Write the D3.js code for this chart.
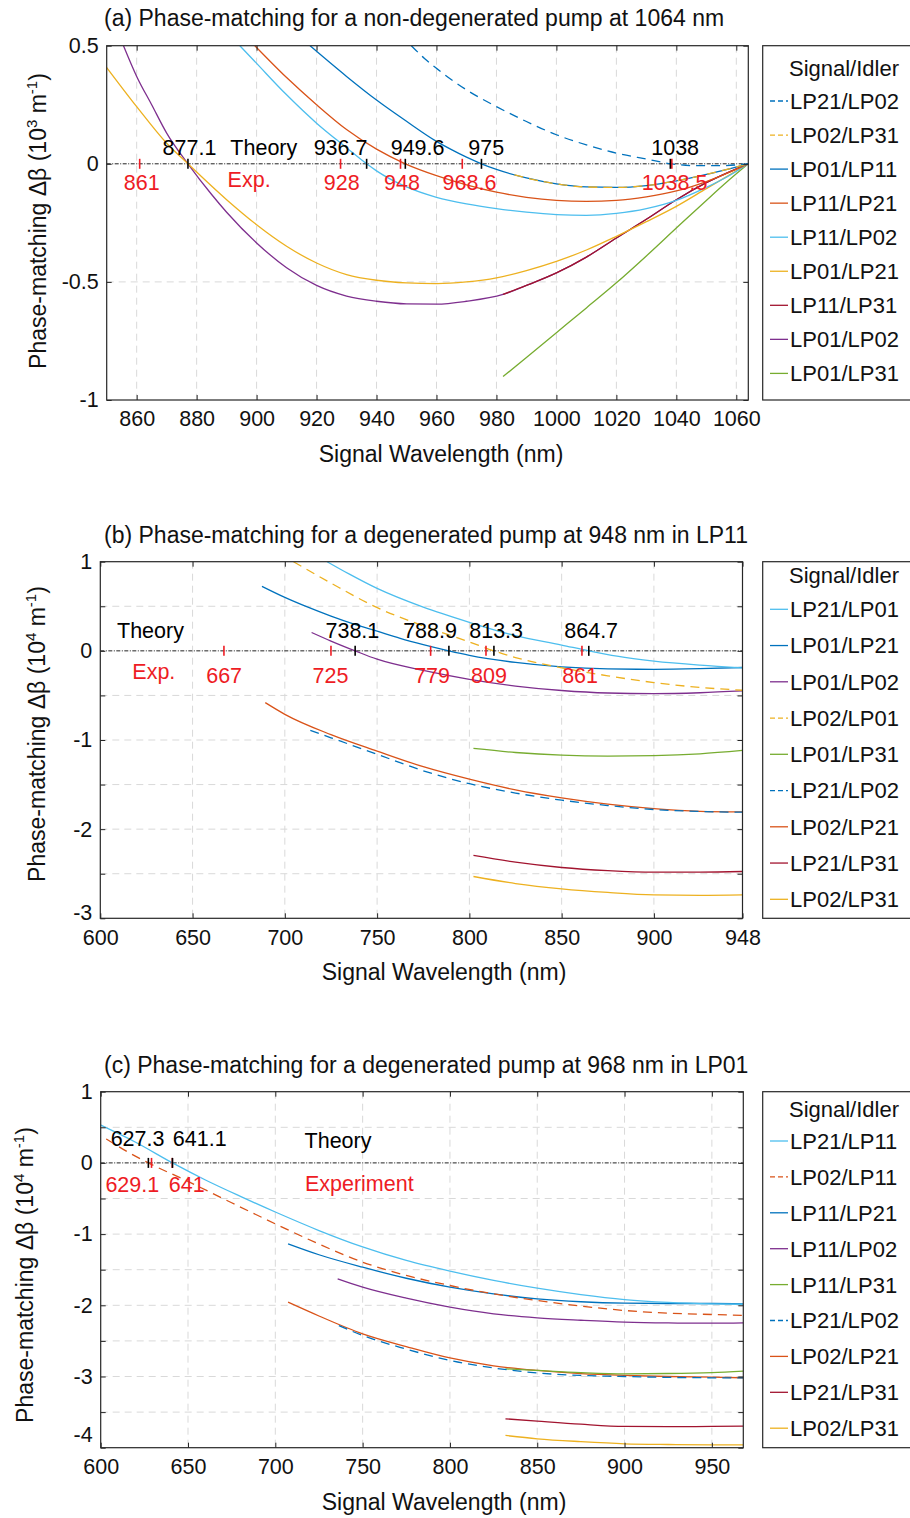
<!DOCTYPE html>
<html>
<head>
<meta charset="utf-8">
<script src="https://cdn.jsdelivr.net/npm/d3@7"></script>
<style>
  body { margin: 0; background: #fff; }
  text { font-family: "Liberation Sans", Arial, Helvetica, sans-serif; }
</style>
</head>
<body>
<svg id="fig" width="910" height="1518"></svg>
<script>
// ---------- panel (a): pump 1064 nm ----------
const namesA = ["LP21/LP02", "LP02/LP31", "LP01/LP11", "LP11/LP21", "LP11/LP02",
                "LP01/LP21", "LP11/LP31", "LP01/LP02", "LP01/LP31"];
const curvesA = [
  [[951.6,0.5],[956,0.446],[960,0.404],[970,0.313],[980,0.242],[990,0.179],[1000,0.123],[1010,0.08],[1020,0.045],[1030,0.02],[1038.3,0],[1046.7,-0.008],[1054.4,-0.008],[1064,0]],
  [[986,-0.047],[990,-0.06],[1000,-0.085],[1010,-0.098],[1020,-0.1],[1030,-0.092],[1040,-0.072],[1050,-0.045],[1058,-0.02],[1064,0]],
  [[917.8,0.5],[930,0.37],[940,0.27],[950,0.18],[960,0.095],[965,0.06],[970,0.028],[975,0],[980,-0.024],[990,-0.06],[1000,-0.085],[1010,-0.098],[1020,-0.1],[1030,-0.092],[1040,-0.072],[1050,-0.045],[1058,-0.02],[1064,0]],
  [[899.4,0.5],[910,0.365],[920,0.25],[930,0.145],[940,0.062],[949.6,0],[960,-0.05],[970,-0.089],[980,-0.12],[990,-0.142],[1000,-0.155],[1010,-0.159],[1020,-0.155],[1030,-0.14],[1040,-0.115],[1050,-0.075],[1064,0]],
  [[894.4,0.5],[900,0.425],[910,0.292],[920,0.172],[930,0.068],[936.7,0],[940,-0.03],[950,-0.098],[960,-0.142],[970,-0.17],[980,-0.19],[990,-0.205],[1000,-0.215],[1010,-0.218],[1020,-0.21],[1030,-0.19],[1040,-0.155],[1050,-0.1],[1057,-0.055],[1064,0]],
  [[849.8,0.411],[860,0.242],[870,0.087],[877.1,0],[890,-0.152],[900,-0.258],[910,-0.349],[920,-0.42],[930,-0.469],[940,-0.493],[950,-0.504],[960,-0.507],[970,-0.5],[980,-0.483],[990,-0.452],[1000,-0.413],[1010,-0.365],[1020,-0.307],[1030,-0.245],[1040,-0.18],[1050,-0.105],[1064,0]],
  [[982.2,-0.553],[990,-0.515],[1000,-0.462],[1010,-0.395],[1020,-0.314],[1030,-0.235],[1040,-0.152],[1050,-0.08],[1064,0]],
  [[855.6,0.5],[860,0.37],[865,0.25],[870,0.13],[877.1,0],[885,-0.13],[890,-0.205],[900,-0.335],[910,-0.44],[920,-0.515],[930,-0.56],[940,-0.582],[950,-0.593],[960,-0.594],[970,-0.582],[982.2,-0.553],[990,-0.515],[1000,-0.462],[1010,-0.395],[1020,-0.314],[1030,-0.235],[1040,-0.152],[1050,-0.08],[1064,0]],
  [[982.2,-0.901],[990,-0.82],[1000,-0.715],[1010,-0.61],[1020,-0.504],[1030,-0.39],[1040,-0.272],[1050,-0.155],[1057,-0.075],[1064,0]]
];
const theoryA = [877.1, 936.7, 949.6, 975, 1038];
const expA = [861, 928, 948, 968.6, 1038.5];
const xTicksA = [860, 880, 900, 920, 940, 960, 980, 1000, 1020, 1040, 1060];
const yTicksA = [-1, -0.5, 0, 0.5];
const yLabelsA = [-1, -0.5, 0, 0.5];

// ---------- panel (b): pump 948 nm in LP11 ----------
const namesB = ["LP21/LP01", "LP01/LP21", "LP01/LP02", "LP02/LP01", "LP01/LP31",
                "LP21/LP02", "LP02/LP21", "LP21/LP31", "LP02/LP31"];
const curvesB = [
  [[722.9,1.0],[735,0.86],[750,0.7],[775,0.49],[800,0.32],[825,0.17],[850,0.065],[864.7,0],[880,-0.06],[900,-0.115],[925,-0.16],[948,-0.19]],
  [[687.6,0.724],[700,0.6],[712.5,0.49],[725,0.39],[737.5,0.3],[750,0.22],[762.5,0.14],[775,0.07],[788.9,0],[800,-0.05],[825,-0.13],[850,-0.18],[875,-0.203],[900,-0.207],[925,-0.2],[948,-0.187]],
  [[714.5,0.206],[725,0.11],[738.1,0],[750,-0.094],[775,-0.22],[800,-0.32],[825,-0.395],[850,-0.445],[875,-0.473],[900,-0.48],[925,-0.47],[948,-0.45]],
  [[704.7,1.0],[725,0.76],[749.8,0.487],[775,0.28],[800,0.1],[813.3,0],[825,-0.075],[850,-0.19],[875,-0.28],[900,-0.356],[925,-0.41],[948,-0.442]],
  [[802.2,-1.095],[825,-1.14],[850,-1.17],[875,-1.18],[900,-1.175],[925,-1.155],[948,-1.117]],
  [[713.8,-0.892],[725,-0.975],[750,-1.16],[775,-1.345],[800,-1.49],[825,-1.595],[850,-1.675],[875,-1.735],[900,-1.78],[925,-1.802],[948,-1.81]],
  [[689.4,-0.581],[700,-0.712],[725,-0.94],[750,-1.125],[775,-1.3],[800,-1.44],[825,-1.56],[850,-1.65],[875,-1.72],[900,-1.77],[925,-1.8],[948,-1.807]],
  [[802.2,-2.295],[825,-2.37],[850,-2.43],[875,-2.465],[900,-2.482],[925,-2.482],[948,-2.475]],
  [[802.2,-2.531],[825,-2.61],[850,-2.67],[875,-2.71],[900,-2.737],[925,-2.742],[948,-2.737]]
];
const theoryB = [738.1, 788.9, 813.3, 864.7];
const expB = [667, 725, 779, 809, 861];
const xTicksB = [600, 650, 700, 750, 800, 850, 900, 948];
const yTicksB = [-3, -2.5, -2, -1.5, -1, -0.5, 0, 0.5, 1];
const yLabelsB = [-3, -2, -1, 0, 1];

// ---------- panel (c): pump 968 nm in LP01 ----------
const namesC = ["LP21/LP11", "LP02/LP11", "LP11/LP21", "LP11/LP02", "LP11/LP31",
                "LP21/LP02", "LP02/LP21", "LP21/LP31", "LP02/LP31"];
const curvesC = [
  [[600,0.53],[620,0.29],[641.1,0],[660,-0.24],[680,-0.47],[700,-0.69],[725,-0.95],[750,-1.18],[775,-1.37],[800,-1.52],[825,-1.65],[850,-1.76],[875,-1.85],[900,-1.92],[925,-1.96],[950,-1.98],[968,-1.985]],
  [[603.2,0.337],[615,0.16],[627.3,0],[650,-0.26],[675,-0.56],[700,-0.856],[725,-1.14],[750,-1.394],[775,-1.58],[800,-1.722],[825,-1.84],[850,-1.933],[875,-2.01],[900,-2.073],[925,-2.11],[950,-2.129],[968,-2.143]],
  [[707.3,-1.137],[725,-1.29],[750,-1.465],[775,-1.62],[800,-1.745],[825,-1.84],[850,-1.909],[875,-1.95],[900,-1.97],[925,-1.975],[950,-1.975],[968,-1.98]],
  [[735.7,-1.628],[750,-1.745],[775,-1.9],[800,-2.026],[825,-2.12],[850,-2.176],[875,-2.21],[900,-2.237],[925,-2.248],[950,-2.251],[968,-2.246]],
  [[831.8,-2.892],[850,-2.915],[875,-2.945],[900,-2.962],[925,-2.958],[950,-2.945],[968,-2.925]],
  [[736.4,-2.284],[750,-2.424],[775,-2.615],[800,-2.775],[825,-2.88],[850,-2.95],[875,-2.985],[900,-3.0],[925,-3.012],[950,-3.018],[968,-3.02]],
  [[707.3,-1.956],[725,-2.15],[750,-2.401],[775,-2.58],[800,-2.74],[825,-2.85],[850,-2.915],[875,-2.96],[900,-2.985],[925,-3.0],[950,-3.009],[968,-3.018]],
  [[831.8,-3.594],[850,-3.627],[875,-3.67],[900,-3.701],[925,-3.705],[950,-3.701],[968,-3.697]],
  [[831.8,-3.828],[850,-3.875],[875,-3.915],[900,-3.945],[925,-3.955],[950,-3.959],[968,-3.959]]
];
const theoryC = [627.3, 641.1];
const expC = [629.1, 641];
const xTicksC = [600, 650, 700, 750, 800, 850, 900, 950];
const yTicksC = [-4, -3.5, -3, -2.5, -2, -1.5, -1, -0.5, 0, 0.5, 1];
const yLabelsC = [-4, -3, -2, -1, 0, 1];

// ---------- styles ----------
const palette = { blue: "#0072BD", orange: "#D95319", yellow: "#EDB120", purple: "#7E2F8E",
                  green: "#77AC30", cyan: "#4DBEEE", wine: "#A2142F" };
const styleA = ["blue--", "yellow--", "blue", "orange", "cyan", "yellow", "wine", "purple", "green"];
const styleB = ["cyan", "blue", "purple", "yellow--", "green", "blue--", "orange", "wine", "yellow"];
const styleC = ["cyan", "orange--", "blue", "purple", "green", "blue--", "orange", "wine", "yellow"];
const RED = "#ee1c24";

const panels = [
  { title: "(a) Phase-matching for a non-degenerated pump at 1064 nm", titleY: 26,
    box: { left: 106.7, right: 748.3, top: 45.7, bottom: 400 },
    xDomain: [850, 1064], yDomain: [-1, 0.5],
    names: namesA, curves: curvesA, styles: styleA,
    xTicks: xTicksA, yTicks: yTicksA, yLabels: yLabelsA, bottomLift: 0,
    power: "3", ylabelPos: [38, 221], xlabelX: 441,
    theory: theoryA, exp: expA,
    theoryAt: [877.6, 928, 953.7, 976.6, 1039.6], theoryTextY: 0.039,
    expAt: [861.7, 928.4, 948.5, 971, 1039.4], expTextY: -0.113,
    words: [["Theory", 902.4, 0.039, "#000"], ["Exp.", 897.5, -0.1, RED]],
    legend: { header: 76, first: 101, step: 34.05 } },
  { title: "(b) Phase-matching for a degenerated pump at 948 nm in LP11", titleY: 543,
    box: { left: 100.3, right: 742.5, top: 561.7, bottom: 918.3 },
    xDomain: [600, 948], yDomain: [-3, 1],
    names: namesB, curves: curvesB, styles: styleB,
    xTicks: xTicksB, yTicks: yTicksB, yLabels: yLabelsB, bottomLift: 6,
    power: "4", ylabelPos: [37, 734], xlabelX: 444,
    theory: theoryB, exp: expB,
    theoryAt: [736.6, 778.7, 814.5, 866], theoryTextY: 0.14,
    expAt: [667.1, 724.7, 779.8, 810.6, 860], expTextY: -0.365,
    words: [["Theory", 627.2, 0.142, "#000"], ["Exp.", 629, -0.32, RED]],
    legend: { header: 582.5, first: 609.3, step: 36.25 } },
  { title: "(c) Phase-matching for a degenerated pump at 968 nm in LP01", titleY: 1073,
    box: { left: 100.7, right: 743.3, top: 1091.7, bottom: 1447.7 },
    xDomain: [600, 968], yDomain: [-4, 1],
    names: namesC, curves: curvesC, styles: styleC,
    xTicks: xTicksC, yTicks: yTicksC, yLabels: yLabelsC, bottomLift: 13,
    power: "4", ylabelPos: [25, 1275], xlabelX: 444,
    theory: theoryC, exp: expC,
    theoryAt: [621.1, 656.7], theoryTextY: 0.24,
    expAt: [618.1, 649.3], expTextY: -0.405,
    words: [["Theory", 735.9, 0.205, "#000"], ["Experiment", 748.1, -0.39, RED]],
    legend: { header: 1117, first: 1141, step: 35.9 } }
];

const svg = d3.select("#fig");
const FS = 21.5;      // ticks, annotations
const FS_LEG = 22;    // legend
const FS_BIG = 23;    // titles, axis labels

function styleOf(s) {
  const dashed = s.endsWith("--");
  return { color: palette[s.replace("--", "")], dashed: dashed };
}

function drawPanel(p, idx) {
  const b = p.box;
  const x = d3.scaleLinear().domain(p.xDomain).range([b.left, b.right]);
  const y = d3.scaleLinear().domain(p.yDomain).range([b.bottom, b.top]);
  const g = svg.append("g");

  const clipId = "clip" + idx;
  g.append("clipPath").attr("id", clipId).append("rect")
    .attr("x", b.left).attr("y", b.top)
    .attr("width", b.right - b.left).attr("height", b.bottom - b.top);

  // dashed grid
  const grid = g.append("g").attr("stroke", "#d9d9d9").attr("stroke-dasharray", "7,5");
  grid.selectAll("line.v")
    .data(p.xTicks.filter(d => d > p.xDomain[0] && d < p.xDomain[1]))
    .join("line").attr("class", "v")
    .attr("x1", d => x(d)).attr("x2", d => x(d))
    .attr("y1", b.top).attr("y2", b.bottom);
  grid.selectAll("line.h")
    .data(p.yTicks.filter(d => d > p.yDomain[0] && d < p.yDomain[1] && d !== 0))
    .join("line").attr("class", "h")
    .attr("x1", b.left).attr("x2", b.right)
    .attr("y1", d => y(d)).attr("y2", d => y(d));

  // zero line (dash-dot)
  g.append("line")
    .attr("x1", b.left).attr("x2", b.right)
    .attr("y1", y(0)).attr("y2", y(0))
    .attr("stroke", "#222").attr("stroke-width", 1)
    .attr("stroke-dasharray", "4,1.5,1,1.5");

  // curves: solid ones first (reverse legend order), dashed on top
  const line = d3.line().x(d => x(d[0])).y(d => y(d[1])).curve(d3.curveMonotoneX);
  const order = d3.range(p.names.length).reverse();
  const drawOrder = order.filter(i => !styleOf(p.styles[i]).dashed)
    .concat(order.filter(i => styleOf(p.styles[i]).dashed));
  const curveG = g.append("g").attr("clip-path", "url(#" + clipId + ")");
  drawOrder.forEach(i => {
    const st = styleOf(p.styles[i]);
    curveG.append("path")
      .datum(p.curves[i])
      .attr("d", line)
      .attr("fill", "none")
      .attr("stroke", st.color)
      .attr("stroke-width", 1.3)
      .attr("stroke-dasharray", st.dashed ? "9,6" : null);
  });

  // theory / experiment markers
  g.append("g").selectAll("line")
    .data(p.exp).join("line")
    .attr("x1", d => x(d)).attr("x2", d => x(d))
    .attr("y1", y(0) - 5).attr("y2", y(0) + 5)
    .attr("stroke", RED).attr("stroke-width", 1.6);
  g.append("g").selectAll("line")
    .data(p.theory).join("line")
    .attr("x1", d => x(d)).attr("x2", d => x(d))
    .attr("y1", y(0) - 5).attr("y2", y(0) + 5)
    .attr("stroke", "#000").attr("stroke-width", 1.6);

  g.append("g").selectAll("text")
    .data(p.theory).join("text")
    .attr("x", (d, i) => x(p.theoryAt[i])).attr("y", y(p.theoryTextY))
    .attr("text-anchor", "middle").attr("font-size", FS).attr("fill", "#000")
    .text(d => String(d));
  g.append("g").selectAll("text")
    .data(p.exp).join("text")
    .attr("x", (d, i) => x(p.expAt[i])).attr("y", y(p.expTextY))
    .attr("text-anchor", "middle").attr("font-size", FS).attr("fill", RED)
    .text(d => String(d));
  p.words.forEach(w => {
    g.append("text")
      .attr("x", x(w[1])).attr("y", y(w[2]))
      .attr("text-anchor", "middle").attr("font-size", FS).attr("fill", w[3])
      .text(w[0]);
  });

  // axes (inward ticks on all four sides)
  const styleAxis = sel => {
    sel.select(".domain").remove();
    sel.selectAll(".tick line").attr("stroke", "#262626");
    sel.selectAll("text").attr("font-size", FS).attr("fill", "#111")
      .attr("font-family", '"Liberation Sans", Arial, Helvetica, sans-serif');
  };
  g.append("g").attr("transform", `translate(0,${b.bottom})`)
    .call(d3.axisBottom(x).tickValues(p.xTicks).tickSize(-5).tickPadding(11).tickFormat(d => String(d)))
    .call(styleAxis);
  g.append("g").attr("transform", `translate(0,${b.top})`)
    .call(d3.axisTop(x).tickValues(p.xTicks).tickSize(-5).tickFormat(""))
    .call(styleAxis);
  g.append("g").attr("transform", `translate(${b.left},0)`)
    .call(d3.axisLeft(y).tickValues(p.yTicks).tickSize(-5).tickPadding(8)
      .tickFormat(d => p.yLabels.includes(d) ? String(d) : ""))
    .call(styleAxis)
    .call(sel => sel.selectAll(".tick text")
      .filter(d => d === p.yDomain[0])
      .attr("y", -p.bottomLift));
  g.append("g").attr("transform", `translate(${b.right},0)`)
    .call(d3.axisRight(y).tickValues(p.yTicks).tickSize(-5).tickFormat(""))
    .call(styleAxis);

  g.append("rect")
    .attr("x", b.left).attr("y", b.top)
    .attr("width", b.right - b.left).attr("height", b.bottom - b.top)
    .attr("fill", "none").attr("stroke", "#262626").attr("stroke-width", 1.2);

  // titles and axis labels
  g.append("text").attr("x", 104).attr("y", p.titleY)
    .attr("font-size", FS_BIG).attr("fill", "#111").text(p.title);
  g.append("text").attr("x", p.xlabelX).attr("y", b.bottom + 62)
    .attr("text-anchor", "middle").attr("font-size", FS_BIG).attr("fill", "#111")
    .text("Signal Wavelength (nm)");
  const yl = g.append("text")
    .attr("transform", `translate(${p.ylabelPos[0]},${p.ylabelPos[1]}) rotate(-90)`)
    .attr("text-anchor", "middle").attr("dy", "0.35em")
    .attr("font-size", FS_BIG).attr("fill", "#111");
  yl.append("tspan").text("Phase-matching \u0394\u03b2 (10");
  yl.append("tspan").attr("dy", -9).attr("font-size", 15).text(p.power);
  yl.append("tspan").attr("dy", 9).text(" m");
  yl.append("tspan").attr("dy", -9).attr("font-size", 15).text("-1");
  yl.append("tspan").attr("dy", 9).text(")");

  // legend
  const L = p.legend;
  const lg = g.append("g");
  lg.append("rect")
    .attr("x", 762.7).attr("y", b.top)
    .attr("width", 160).attr("height", b.bottom - b.top)
    .attr("fill", "#fff").attr("stroke", "#262626").attr("stroke-width", 1.2);
  lg.append("text").attr("x", 844).attr("y", L.header)
    .attr("text-anchor", "middle").attr("font-size", FS_LEG).attr("fill", "#111")
    .text("Signal/Idler");
  const items = lg.selectAll("g.item").data(p.names).join("g").attr("class", "item")
    .attr("transform", (d, i) => `translate(0,${L.first + i * L.step})`);
  items.append("line")
    .attr("x1", 770).attr("x2", 788)
    .attr("stroke", (d, i) => styleOf(p.styles[i]).color)
    .attr("stroke-width", 1.3)
    .attr("stroke-dasharray", (d, i) => styleOf(p.styles[i]).dashed ? "5,3" : null);
  items.append("text")
    .attr("x", 790).attr("dy", "0.36em")
    .attr("font-size", FS_LEG).attr("fill", "#111")
    .text(d => d);
}

panels.forEach(drawPanel);
</script>
</body>
</html>
